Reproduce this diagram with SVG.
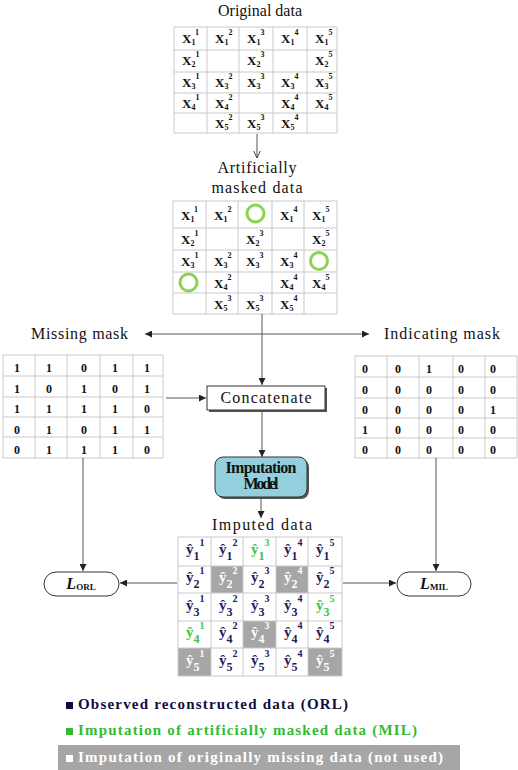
<svg xmlns="http://www.w3.org/2000/svg" width="518" height="770" viewBox="0 0 518 770">
<defs>
<style>
.t{font-family:"Liberation Serif",serif;font-size:16px;fill:#111}
.x{font-family:"Liberation Serif",serif;font-weight:bold;font-size:13px;fill:#111}
.s{font-size:8px}
.d{font-family:"Liberation Serif",serif;font-weight:bold;font-size:12px;fill:#111;text-anchor:middle}
.y{font-family:"Liberation Serif",serif;font-weight:bold;font-size:15px;fill:#231b5c}
.ys{font-size:12px}
.yp{font-size:10px}
.g{fill:#3cc43c}
.w{fill:#ffffff}
.grid{stroke:#c9c9c9;stroke-width:1;fill:none}
.gc{fill:#a6a6a6}
.ring{fill:none;stroke:#8ed255;stroke-width:3}
.lg{font-family:"Liberation Serif",serif;font-weight:bold;font-size:15px}
.c{fill:none;stroke:#555;stroke-width:1}
</style>
<marker id="ah" viewBox="0 0 8 8" refX="8" refY="4" markerWidth="7" markerHeight="7" markerUnits="userSpaceOnUse" orient="auto">
<path d="M0,0 L8,4 L0,8 z" fill="#222"/>
</marker>
<marker id="ao" viewBox="0 0 8 8" refX="7.5" refY="4" markerWidth="8" markerHeight="8" markerUnits="userSpaceOnUse" orient="auto">
<path d="M0,0.5 L7.5,4 L0,7.5" fill="none" stroke="#444" stroke-width="1"/>
</marker>
</defs>
<rect width="518" height="770" fill="#ffffff"/>

<g id="original-data">
<text class="t" x="260" y="16" text-anchor="middle" textLength="84">Original data</text>
<path class="grid" d="M174,27H337V133H174Z M174,50H337 M174,72H337 M174,93H337 M174,113H337 M207,27V133 M239,27V133 M273,27V133 M307,27V133"/>
<text class="x" x="182" y="43">X<tspan class="s" dy="1.5">1</tspan><tspan class="s" dy="-10">1</tspan></text>
<text class="x" x="215" y="43">X<tspan class="s" dy="1.5">1</tspan><tspan class="s" dy="-10">2</tspan></text>
<text class="x" x="247" y="43">X<tspan class="s" dy="1.5">1</tspan><tspan class="s" dy="-10">3</tspan></text>
<text class="x" x="281" y="43">X<tspan class="s" dy="1.5">1</tspan><tspan class="s" dy="-10">4</tspan></text>
<text class="x" x="315" y="43">X<tspan class="s" dy="1.5">1</tspan><tspan class="s" dy="-10">5</tspan></text>
<text class="x" x="182" y="65">X<tspan class="s" dy="1.5">2</tspan><tspan class="s" dy="-10">1</tspan></text>
<text class="x" x="247" y="65">X<tspan class="s" dy="1.5">2</tspan><tspan class="s" dy="-10">3</tspan></text>
<text class="x" x="315" y="65">X<tspan class="s" dy="1.5">2</tspan><tspan class="s" dy="-10">5</tspan></text>
<text class="x" x="182" y="87">X<tspan class="s" dy="1.5">3</tspan><tspan class="s" dy="-10">1</tspan></text>
<text class="x" x="215" y="87">X<tspan class="s" dy="1.5">3</tspan><tspan class="s" dy="-10">2</tspan></text>
<text class="x" x="247" y="87">X<tspan class="s" dy="1.5">3</tspan><tspan class="s" dy="-10">3</tspan></text>
<text class="x" x="281" y="87">X<tspan class="s" dy="1.5">3</tspan><tspan class="s" dy="-10">4</tspan></text>
<text class="x" x="315" y="87">X<tspan class="s" dy="1.5">3</tspan><tspan class="s" dy="-10">5</tspan></text>
<text class="x" x="182" y="108">X<tspan class="s" dy="1.5">4</tspan><tspan class="s" dy="-10">1</tspan></text>
<text class="x" x="215" y="108">X<tspan class="s" dy="1.5">4</tspan><tspan class="s" dy="-10">2</tspan></text>
<text class="x" x="281" y="108">X<tspan class="s" dy="1.5">4</tspan><tspan class="s" dy="-10">4</tspan></text>
<text class="x" x="315" y="108">X<tspan class="s" dy="1.5">4</tspan><tspan class="s" dy="-10">5</tspan></text>
<text class="x" x="215" y="128">X<tspan class="s" dy="1.5">5</tspan><tspan class="s" dy="-10">2</tspan></text>
<text class="x" x="247" y="128">X<tspan class="s" dy="1.5">5</tspan><tspan class="s" dy="-10">3</tspan></text>
<text class="x" x="281" y="128">X<tspan class="s" dy="1.5">5</tspan><tspan class="s" dy="-10">4</tspan></text>
</g>

<g id="masked-data">
<text class="t" x="257" y="173" text-anchor="middle" textLength="79">Artificially</text>
<text class="t" x="257" y="193" text-anchor="middle" textLength="91">masked data</text>
<path class="grid" d="M173,201H337V314H173Z M173,228H337 M173,250H337 M173,272H337 M173,293H337 M206,201V314 M238,201V314 M272,201V314 M304,201V314"/>
<text class="x" x="181" y="220">X<tspan class="s" dy="1.5">1</tspan><tspan class="s" dy="-10">1</tspan></text>
<text class="x" x="214" y="220">X<tspan class="s" dy="1.5">1</tspan><tspan class="s" dy="-10">2</tspan></text>
<circle class="ring" cx="255.5" cy="213.5" r="8.5"/>
<text class="x" x="280" y="220">X<tspan class="s" dy="1.5">1</tspan><tspan class="s" dy="-10">4</tspan></text>
<text class="x" x="312" y="220">X<tspan class="s" dy="1.5">1</tspan><tspan class="s" dy="-10">5</tspan></text>
<text class="x" x="181" y="244">X<tspan class="s" dy="1.5">2</tspan><tspan class="s" dy="-10">1</tspan></text>
<text class="x" x="246" y="244">X<tspan class="s" dy="1.5">2</tspan><tspan class="s" dy="-10">3</tspan></text>
<text class="x" x="312" y="244">X<tspan class="s" dy="1.5">2</tspan><tspan class="s" dy="-10">5</tspan></text>
<text class="x" x="181" y="266">X<tspan class="s" dy="1.5">3</tspan><tspan class="s" dy="-10">1</tspan></text>
<text class="x" x="214" y="266">X<tspan class="s" dy="1.5">3</tspan><tspan class="s" dy="-10">2</tspan></text>
<text class="x" x="246" y="266">X<tspan class="s" dy="1.5">3</tspan><tspan class="s" dy="-10">3</tspan></text>
<text class="x" x="280" y="266">X<tspan class="s" dy="1.5">3</tspan><tspan class="s" dy="-10">4</tspan></text>
<circle class="ring" cx="319" cy="261" r="8.5"/>
<circle class="ring" cx="188.5" cy="282.5" r="8.5"/>
<text class="x" x="214" y="288">X<tspan class="s" dy="1.5">4</tspan><tspan class="s" dy="-10">2</tspan></text>
<text class="x" x="280" y="288">X<tspan class="s" dy="1.5">4</tspan><tspan class="s" dy="-10">4</tspan></text>
<text class="x" x="312" y="288">X<tspan class="s" dy="1.5">4</tspan><tspan class="s" dy="-10">5</tspan></text>
<text class="x" x="214" y="309">X<tspan class="s" dy="1.5">5</tspan><tspan class="s" dy="-10">3</tspan></text>
<text class="x" x="246" y="309">X<tspan class="s" dy="1.5">5</tspan><tspan class="s" dy="-10">3</tspan></text>
<text class="x" x="280" y="309">X<tspan class="s" dy="1.5">5</tspan><tspan class="s" dy="-10">4</tspan></text>
</g>

<g id="missing-mask">
<text class="t" x="31" y="339" textLength="97">Missing mask</text>
<path class="grid" d="M3,355H163V458H3Z M3,376H163 M3,397H163 M3,417H163 M3,437H163 M35,355V458 M67,355V458 M100,355V458 M133,355V458"/>
<text class="d" y="372"><tspan x="17">1</tspan><tspan x="49">1</tspan><tspan x="84">0</tspan><tspan x="115">1</tspan><tspan x="147">1</tspan></text>
<text class="d" y="393"><tspan x="17">1</tspan><tspan x="49">0</tspan><tspan x="84">1</tspan><tspan x="115">0</tspan><tspan x="147">1</tspan></text>
<text class="d" y="413"><tspan x="17">1</tspan><tspan x="49">1</tspan><tspan x="84">1</tspan><tspan x="115">1</tspan><tspan x="147">0</tspan></text>
<text class="d" y="434"><tspan x="17">0</tspan><tspan x="49">1</tspan><tspan x="84">0</tspan><tspan x="115">1</tspan><tspan x="147">1</tspan></text>
<text class="d" y="454"><tspan x="17">0</tspan><tspan x="49">1</tspan><tspan x="84">1</tspan><tspan x="115">1</tspan><tspan x="147">0</tspan></text>
</g>

<g id="indicating-mask">
<text class="t" x="384" y="339" textLength="116">Indicating mask</text>
<path class="grid" d="M355,356H517V458H355Z M355,377H517 M355,398H517 M355,418H517 M355,438H517 M387,356V458 M419,356V458 M453,356V458 M485,356V458"/>
<text class="d" y="373"><tspan x="365">0</tspan><tspan x="398">0</tspan><tspan x="429">1</tspan><tspan x="461">0</tspan><tspan x="493">0</tspan></text>
<text class="d" y="394"><tspan x="365">0</tspan><tspan x="398">0</tspan><tspan x="429">0</tspan><tspan x="461">0</tspan><tspan x="493">0</tspan></text>
<text class="d" y="414"><tspan x="365">0</tspan><tspan x="398">0</tspan><tspan x="429">0</tspan><tspan x="461">0</tspan><tspan x="493">1</tspan></text>
<text class="d" y="434"><tspan x="365">1</tspan><tspan x="398">0</tspan><tspan x="429">0</tspan><tspan x="461">0</tspan><tspan x="493">0</tspan></text>
<text class="d" y="454"><tspan x="365">0</tspan><tspan x="398">0</tspan><tspan x="429">0</tspan><tspan x="461">0</tspan><tspan x="493">0</tspan></text>
</g>

<g id="concatenate">
<rect x="209" y="388" width="118" height="24" fill="#555"/>
<rect x="207" y="386" width="118" height="24" fill="#ffffff" stroke="#333" stroke-width="1"/>
<text class="t" x="266" y="403" text-anchor="middle" textLength="91">Concatenate</text>
</g>

<g id="imputation-model">
<rect x="217" y="459" width="92" height="40" rx="8" fill="#555"/>
<rect x="215" y="457" width="92" height="40" rx="8" fill="#93cfdc" stroke="#333" stroke-width="1"/>
<text class="t" x="261" y="473" text-anchor="middle" font-weight="bold" font-size="13" textLength="71">Imputation</text>
<text class="t" x="261" y="489" text-anchor="middle" font-weight="bold" font-size="13" textLength="35">Model</text>
</g>

<g id="imputed-data">
<text class="t" x="262" y="530" text-anchor="middle" textLength="100">Imputed data</text>
<rect class="gc" x="211" y="566" width="32" height="27"/>
<rect class="gc" x="276" y="566" width="32" height="27"/>
<rect class="gc" x="243" y="621" width="33" height="27"/>
<rect class="gc" x="178" y="648" width="33" height="28"/>
<rect class="gc" x="308" y="648" width="34" height="28"/>
<path class="grid" d="M178,537H342V676H178Z M178,566H342 M178,593H342 M178,621H342 M178,648H342 M211,537V676 M243,537V676 M276,537V676 M308,537V676"/>
<text class="y" x="186" y="554">ŷ<tspan class="ys" dy="6">1</tspan><tspan class="yp" dy="-14">1</tspan></text>
<text class="y" x="219" y="554">ŷ<tspan class="ys" dy="6">1</tspan><tspan class="yp" dy="-14">2</tspan></text>
<text class="y g" x="251" y="554">ŷ<tspan class="ys" dy="6">1</tspan><tspan class="yp" dy="-14">3</tspan></text>
<text class="y" x="284" y="554">ŷ<tspan class="ys" dy="6">1</tspan><tspan class="yp" dy="-14">4</tspan></text>
<text class="y" x="316" y="554">ŷ<tspan class="ys" dy="6">1</tspan><tspan class="yp" dy="-14">5</tspan></text>
<text class="y" x="186" y="582">ŷ<tspan class="ys" dy="6">2</tspan><tspan class="yp" dy="-14">1</tspan></text>
<text class="y w" x="219" y="582">ŷ<tspan class="ys" dy="6">2</tspan><tspan class="yp" dy="-14">2</tspan></text>
<text class="y" x="251" y="582">ŷ<tspan class="ys" dy="6">2</tspan><tspan class="yp" dy="-14">3</tspan></text>
<text class="y w" x="284" y="582">ŷ<tspan class="ys" dy="6">2</tspan><tspan class="yp" dy="-14">4</tspan></text>
<text class="y" x="316" y="582">ŷ<tspan class="ys" dy="6">2</tspan><tspan class="yp" dy="-14">5</tspan></text>
<text class="y" x="186" y="610">ŷ<tspan class="ys" dy="6">3</tspan><tspan class="yp" dy="-14">1</tspan></text>
<text class="y" x="219" y="610">ŷ<tspan class="ys" dy="6">3</tspan><tspan class="yp" dy="-14">2</tspan></text>
<text class="y" x="251" y="610">ŷ<tspan class="ys" dy="6">3</tspan><tspan class="yp" dy="-14">3</tspan></text>
<text class="y" x="284" y="610">ŷ<tspan class="ys" dy="6">3</tspan><tspan class="yp" dy="-14">4</tspan></text>
<text class="y g" x="316" y="610">ŷ<tspan class="ys" dy="6">3</tspan><tspan class="yp" dy="-14">5</tspan></text>
<text class="y g" x="186" y="637">ŷ<tspan class="ys" dy="6">4</tspan><tspan class="yp" dy="-14">1</tspan></text>
<text class="y" x="219" y="637">ŷ<tspan class="ys" dy="6">4</tspan><tspan class="yp" dy="-14">2</tspan></text>
<text class="y w" x="251" y="637">ŷ<tspan class="ys" dy="6">4</tspan><tspan class="yp" dy="-14">3</tspan></text>
<text class="y" x="284" y="637">ŷ<tspan class="ys" dy="6">4</tspan><tspan class="yp" dy="-14">4</tspan></text>
<text class="y" x="316" y="637">ŷ<tspan class="ys" dy="6">4</tspan><tspan class="yp" dy="-14">5</tspan></text>
<text class="y w" x="186" y="665">ŷ<tspan class="ys" dy="6">5</tspan><tspan class="yp" dy="-14">1</tspan></text>
<text class="y" x="219" y="665">ŷ<tspan class="ys" dy="6">5</tspan><tspan class="yp" dy="-14">2</tspan></text>
<text class="y" x="251" y="665">ŷ<tspan class="ys" dy="6">5</tspan><tspan class="yp" dy="-14">3</tspan></text>
<text class="y" x="284" y="665">ŷ<tspan class="ys" dy="6">5</tspan><tspan class="yp" dy="-14">4</tspan></text>
<text class="y w" x="316" y="665">ŷ<tspan class="ys" dy="6">5</tspan><tspan class="yp" dy="-14">5</tspan></text>
</g>

<g id="loss-orl">
<rect x="44" y="572" width="75" height="24" rx="12" fill="#ffffff" stroke="#333" stroke-width="1"/>
<text x="81" y="589" text-anchor="middle" font-family="Liberation Serif, serif" font-weight="bold" fill="#111"><tspan font-style="italic" font-size="16">L</tspan><tspan font-size="9" dy="1">ORL</tspan></text>
</g>

<g id="loss-mil">
<rect x="397" y="572" width="74" height="24" rx="12" fill="#ffffff" stroke="#333" stroke-width="1"/>
<text x="434" y="589" text-anchor="middle" font-family="Liberation Serif, serif" font-weight="bold" fill="#111"><tspan font-style="italic" font-size="16">L</tspan><tspan font-size="9" dy="1">MIL</tspan></text>
</g>

<g id="connectors">
<path class="c" d="M257,134V158" stroke="#444" marker-end="url(#ao)"/>
<path class="c" d="M262,314V385" stroke-width="1.5" marker-end="url(#ah)"/>
<path class="c" d="M262,334H145" stroke="#777" marker-end="url(#ah)"/>
<path class="c" d="M262,334H369" stroke="#666" marker-end="url(#ah)"/>
<path class="c" d="M166,398H206" stroke-width="1.5" marker-end="url(#ah)"/>
<path class="c" d="M262,411V457" stroke-width="1.5" marker-end="url(#ah)"/>
<path class="c" d="M261,498V518" stroke="#aaa" marker-end="url(#ah)"/>
<path class="c" d="M83,458V571" stroke="#c4c4c4" marker-end="url(#ah)"/>
<path class="c" d="M436,458V571" stroke="#333" marker-end="url(#ah)"/>
<path class="c" d="M177,583H120" stroke="#222" marker-end="url(#ah)"/>
<path class="c" d="M343,583H396" stroke="#666" marker-end="url(#ah)"/>
</g>

<g id="legend">
<rect x="66" y="702" width="7" height="7" fill="#100c40"/>
<text class="lg" x="78" y="709" fill="#100c40" textLength="270">Observed reconstructed data (ORL)</text>
<rect x="66" y="728" width="7" height="7" fill="#33bb33"/>
<text class="lg" x="78" y="735" fill="#33bb33" textLength="339">Imputation of artificially masked data (MIL)</text>
<rect x="58" y="745" width="402" height="25" fill="#a6a6a6"/>
<rect x="66" y="755" width="7" height="7" fill="#ffffff"/>
<text class="lg" x="78" y="762" fill="#ffffff" textLength="365">Imputation of originally missing data (not used)</text>
</g>
</svg>
